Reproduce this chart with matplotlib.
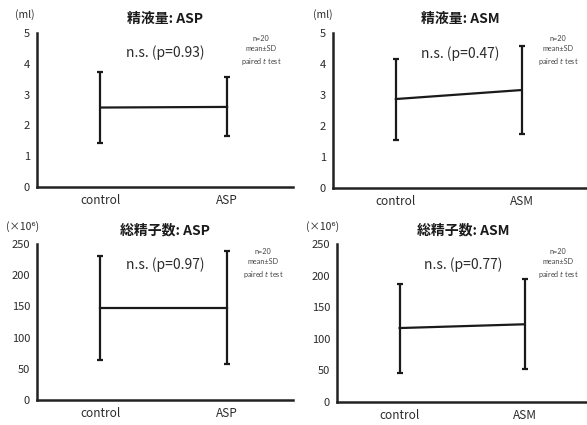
import matplotlib
matplotlib.use("Agg")
import matplotlib.pyplot as plt

plt.rcParams['font.family'] = ['Noto Sans CJK JP', 'DejaVu Sans']

groups_asp = ["control", "ASP"]
groups_asm = ["control", "ASM"]

# semen volume (ml), mean and SD-range
vol_asp_mean = [2.58, 2.60]
vol_asp_lo = [1.43, 1.66]
vol_asp_hi = [3.73, 3.57]
vol_asm_mean = [2.87, 3.16]
vol_asm_lo = [1.55, 1.74]
vol_asm_hi = [4.16, 4.58]

# total sperm count (x10^6)
cnt_asp_mean = [148, 148]
cnt_asp_lo = [64, 58]
cnt_asp_hi = [231, 239]
cnt_asm_mean = [117, 123]
cnt_asm_lo = [46, 52]
cnt_asm_hi = [187, 195]

titles = ["精液量: ASP", "精液量: ASM", "総精子数: ASP", "総精子数: ASM"]
pvals = ["n.s. (p=0.93)", "n.s. (p=0.47)", "n.s. (p=0.97)", "n.s. (p=0.77)"]
units = ["(ml)", "(ml)", "(×10⁶)", "(×10⁶)"]
yticks_vol = [0, 1, 2, 3, 4, 5]
yticks_cnt = [0, 50, 100, 150, 200, 250]

W, H = 587, 425
fig = plt.figure(figsize=(W / 100, H / 100), dpi=100)

def px_axes(x0, y0, x1, y1):
    return fig.add_axes([x0 / W, 1 - y1 / H, (x1 - x0) / W, (y1 - y0) / H])

def px_text(x, y, s, **kw):
    fig.text(x / W, 1 - y / H, s, **kw)

boxes = [(37, 33, 293, 187), (333, 33, 587, 188),
         (37, 244, 293, 400), (337, 244, 590, 402)]
unit_pos = [(25, 15), (323, 15), (23, 227), (323, 227)]
note_pos = [(261, 51), (558, 51), (263, 264), (558, 264)]
data = [(groups_asp, vol_asp_mean, vol_asp_lo, vol_asp_hi, yticks_vol),
        (groups_asm, vol_asm_mean, vol_asm_lo, vol_asm_hi, yticks_vol),
        (groups_asp, cnt_asp_mean, cnt_asp_lo, cnt_asp_hi, yticks_cnt),
        (groups_asm, cnt_asm_mean, cnt_asm_lo, cnt_asm_hi, yticks_cnt)]

for i, (box, d) in enumerate(zip(boxes, data)):
    names, mean, lo, hi, yt = d
    ax = px_axes(*box)
    x = [0, 1]
    err = [[m - l for m, l in zip(mean, lo)], [h - m for m, h in zip(mean, hi)]]
    ax.errorbar(x, mean, yerr=err, color='#1a1a1a', lw=1.6, elinewidth=1.6,
                capsize=2.5, capthick=1.6)
    ax.set_xlim(-0.5, 1.52)
    ax.set_ylim(yt[0], yt[-1])
    ax.set_yticks(yt)
    ax.set_xticks(x)
    ax.set_xticklabels(names)
    ax.tick_params(length=0, labelsize=8, colors='#2a2a2a', pad=5)
    ax.tick_params(axis='x', labelsize=8.5, pad=5)
    for s in ['top', 'right']:
        ax.spines[s].set_visible(False)
    for s in ['left', 'bottom']:
        ax.spines[s].set_linewidth(1.8)
        ax.spines[s].set_color('#222222')
    ax.patch.set_alpha(0)
    ax.set_title(titles[i], fontsize=10, fontweight='bold', pad=7, color='#1a1a1a')
    ax.text(0.5, 0.87, pvals[i], transform=ax.transAxes, ha='center', va='center',
            fontsize=10, color='#2a2a2a')
    px_text(*unit_pos[i], units[i], ha='center', va='center', fontsize=7.5,
            color='#2a2a2a')
    px_text(*note_pos[i], "n=20\nmean±SD\npaired $\\it{t}$ test", ha='center',
            va='center', fontsize=5.2, color='#444444', linespacing=1.45,
            family=['Lato', 'DejaVu Sans'])

fig.savefig("out.png", dpi=100)
